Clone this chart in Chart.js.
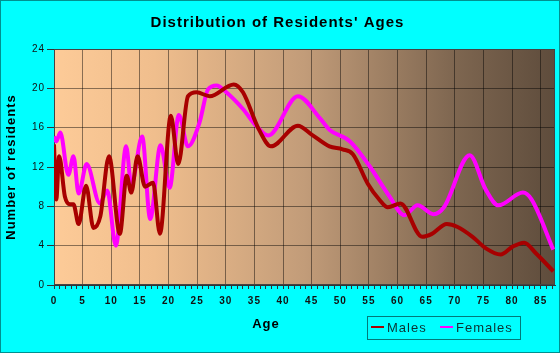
<!DOCTYPE html>
<html>
<head>
<meta charset="utf-8">
<title>Distribution of Residents' Ages</title>
<script src="https://cdn.jsdelivr.net/npm/chart.js@4.4.1/dist/chart.umd.min.js"></script>
<style>
  html, body { margin: 0; padding: 0; background: #00ffff; }
</style>
</head>
<body>
<canvas id="ages-chart" width="560" height="353"></canvas>
<script>
// ------------------------------------------------------------
// Values
// ------------------------------------------------------------
const maleAges = [0, 0.4, 0.9, 1.9, 2.8, 3.4, 4.3, 5.6, 6.9, 8.1, 9.6, 11.5, 12.7, 13.5, 14.6, 15.9, 17.3, 18.5, 20.4, 21.7,
  23.4, 24.9, 27.2, 31.4, 33.0, 35.8, 37.9, 42.6, 45.0, 48.1, 50.4, 52.2, 54.8, 56.8, 58.3, 60.5, 64.3, 66.0, 68.6, 70.5,
  73.1, 75.5, 78.0, 80.1, 82.1, 84.2, 87.2];
const maleCounts = [14.3, 8.7, 13.1, 9.0, 8.2, 8.2, 6.2, 10.1, 5.8, 7.0, 13.1, 5.2, 11.1, 9.4, 13.1, 10.0, 10.4, 5.2, 17.2, 12.3,
  19.2, 19.6, 19.2, 20.4, 19.6, 15.8, 14.1, 16.2, 15.3, 14.1, 13.8, 13.3, 10.3, 8.7, 7.9, 8.3, 4.9, 5.2, 6.2, 5.9,
  4.9, 3.7, 3.1, 3.9, 4.3, 3.2, 1.4];

const femaleAges = [0, 0.4, 1.1, 2.5, 3.4, 4.3, 5.7, 8.0, 9.3, 10.8, 12.6, 13.5, 15.4, 16.8, 18.6, 20.2, 21.8, 23.4, 25.4, 26.9,
  28.4, 30.1, 33.0, 35.3, 37.4, 42.6, 46.4, 48.1, 51.7, 55.1, 58.6, 61.2, 63.5, 66.3, 68.1, 72.6, 75.4, 77.6, 81.9, 83.4, 87.2];
const femaleCounts = [15.1, 14.6, 15.5, 11.2, 13.1, 9.3, 12.3, 8.3, 9.6, 4.0, 14.1, 10.2, 15.1, 6.7, 14.2, 9.9, 17.3, 14.1, 16.5, 19.9,
  20.3, 19.6, 17.9, 16.2, 15.2, 19.2, 17.0, 15.8, 14.6, 12.1, 9.0, 7.1, 8.1, 7.2, 7.9, 13.2, 9.7, 8.1, 9.4, 8.7, 3.6];

const xTickLabels = [0, 5, 10, 15, 20, 25, 30, 35, 40, 45, 50, 55, 60, 65, 70, 75, 80, 85];
const yTickLabels = [0, 4, 8, 12, 16, 20, 24];

const seriesNames = ['Males', 'Females'];
const seriesColors = ['#a80000', '#ff00ff'];

// ------------------------------------------------------------
// Theme
// ------------------------------------------------------------
Chart.defaults.font.family = "'Liberation Sans', Arial, sans-serif";
Chart.defaults.color = '#111111';

const GRID_COLOR = 'rgba(0, 0, 0, 0.45)';
const AXIS_COLOR = '#333333';

function toPoints(xs, ys) {
  return xs.map((x, i) => ({ x: x, y: ys[i] }));
}

// Background, plot gradient, frame, x title, legend box and outer border
const decorPlugin = {
  id: 'decor',
  beforeUpdate(chart) {
    chart.ctx.letterSpacing = '1px';
  },
  beforeDraw(chart) {
    const { ctx, chartArea: a, width, height } = chart;
    ctx.letterSpacing = '1px';
    ctx.save();
    ctx.fillStyle = '#00ffff';
    ctx.fillRect(0, 0, width, height);
    const g = ctx.createLinearGradient(a.left, 0, a.right, 0);
    g.addColorStop(0, '#fdcb98');
    g.addColorStop(0.2, '#f0be8d');
    g.addColorStop(0.5, '#c29c79');
    g.addColorStop(0.8, '#7e6650');
    g.addColorStop(1, '#5e4c3c');
    ctx.fillStyle = g;
    ctx.fillRect(a.left, a.top, a.right - a.left, a.bottom - a.top);
    ctx.restore();
  },
  beforeDatasetsDraw(chart) {
    const { ctx, chartArea: a } = chart;
    ctx.save();
    ctx.strokeStyle = '#444444';
    ctx.lineWidth = 1;
    ctx.strokeRect(a.left + 0.5, a.top + 0.5, a.right - a.left - 1, a.bottom - a.top - 1);
    ctx.restore();
  },
  afterDraw(chart) {
    const { ctx, width, height } = chart;
    ctx.save();
    ctx.letterSpacing = '1px';

    // x axis title
    ctx.fillStyle = '#000000';
    ctx.font = "bold 13px 'Liberation Sans', Arial, sans-serif";
    ctx.textAlign = 'center';
    ctx.textBaseline = 'middle';
    ctx.fillText('Age', 266, 324);

    // legend
    ctx.strokeStyle = '#007a7a';
    ctx.lineWidth = 1;
    ctx.strokeRect(367.5, 316.5, 153, 23);
    ctx.font = "13px 'Liberation Sans', Arial, sans-serif";
    ctx.textAlign = 'left';
    const items = [
      { x: 371, text: seriesNames[0], color: seriesColors[0] },
      { x: 440, text: seriesNames[1], color: seriesColors[1] }
    ];
    items.forEach(it => {
      ctx.strokeStyle = it.color;
      ctx.lineWidth = 2;
      ctx.beginPath();
      ctx.moveTo(it.x, 327);
      ctx.lineTo(it.x + 13, 327);
      ctx.stroke();
      ctx.fillStyle = '#0b3333';
      ctx.fillText(it.text, it.x + 16, 328);
    });

    // outer border
    ctx.strokeStyle = '#009090';
    ctx.lineWidth = 1;
    ctx.strokeRect(0.5, 0.5, width - 1, height - 1);
    ctx.restore();
  }
};

new Chart(document.getElementById('ages-chart').getContext('2d'), {
  type: 'line',
  data: {
    datasets: [
      {
        label: seriesNames[0],
        data: toPoints(maleAges, maleCounts),
        borderColor: seriesColors[0],
        backgroundColor: seriesColors[0],
        borderWidth: 4,
        pointRadius: 0,
        fill: false,
        cubicInterpolationMode: 'monotone'
      },
      {
        label: seriesNames[1],
        data: toPoints(femaleAges, femaleCounts),
        borderColor: seriesColors[1],
        backgroundColor: seriesColors[1],
        borderWidth: 4,
        pointRadius: 0,
        fill: false,
        cubicInterpolationMode: 'monotone'
      }
    ]
  },
  options: {
    responsive: false,
    animation: false,
    events: [],
    layout: {
      padding: { left: 0, right: 5, top: 0, bottom: 0 }
    },
    plugins: {
      legend: { display: false },
      tooltip: { enabled: false },
      title: {
        display: true,
        text: "Distribution of Residents' Ages",
        color: '#000000',
        font: { size: 15, weight: 'bold' },
        padding: { top: 14, bottom: 17 }
      }
    },
    scales: {
      x: {
        type: 'linear',
        min: 0,
        max: 87.5,
        afterFit: scale => { scale.height = 68; },
        border: { display: true, color: AXIS_COLOR },
        grid: {
          color: ctx => (ctx.tick && ctx.tick.value % 5 === 0) ? GRID_COLOR : 'rgba(0, 0, 0, 0)',
          tickColor: AXIS_COLOR,
          tickLength: 4
        },
        ticks: {
          stepSize: 1,
          autoSkip: false,
          includeBounds: false,
          maxRotation: 0,
          padding: 6,
          color: '#111111',
          font: { size: 10, weight: 'bold' },
          callback: value => xTickLabels.includes(value) ? String(value) : ''
        }
      },
      y: {
        min: 0,
        max: 24,
        afterFit: scale => { scale.width = 54; },
        border: { display: true, color: AXIS_COLOR },
        grid: {
          color: GRID_COLOR,
          tickColor: AXIS_COLOR,
          tickLength: 7
        },
        ticks: {
          stepSize: 4,
          padding: 2,
          color: '#111111',
          font: { size: 10 },
          callback: value => yTickLabels.includes(value) ? String(value) : ''
        },
        title: {
          display: true,
          text: 'Number of residents',
          color: '#000000',
          font: { size: 13, weight: 'bold' },
          padding: { top: 4, bottom: 0 }
        }
      }
    }
  },
  plugins: [decorPlugin]
});
</script>
</body>
</html>
